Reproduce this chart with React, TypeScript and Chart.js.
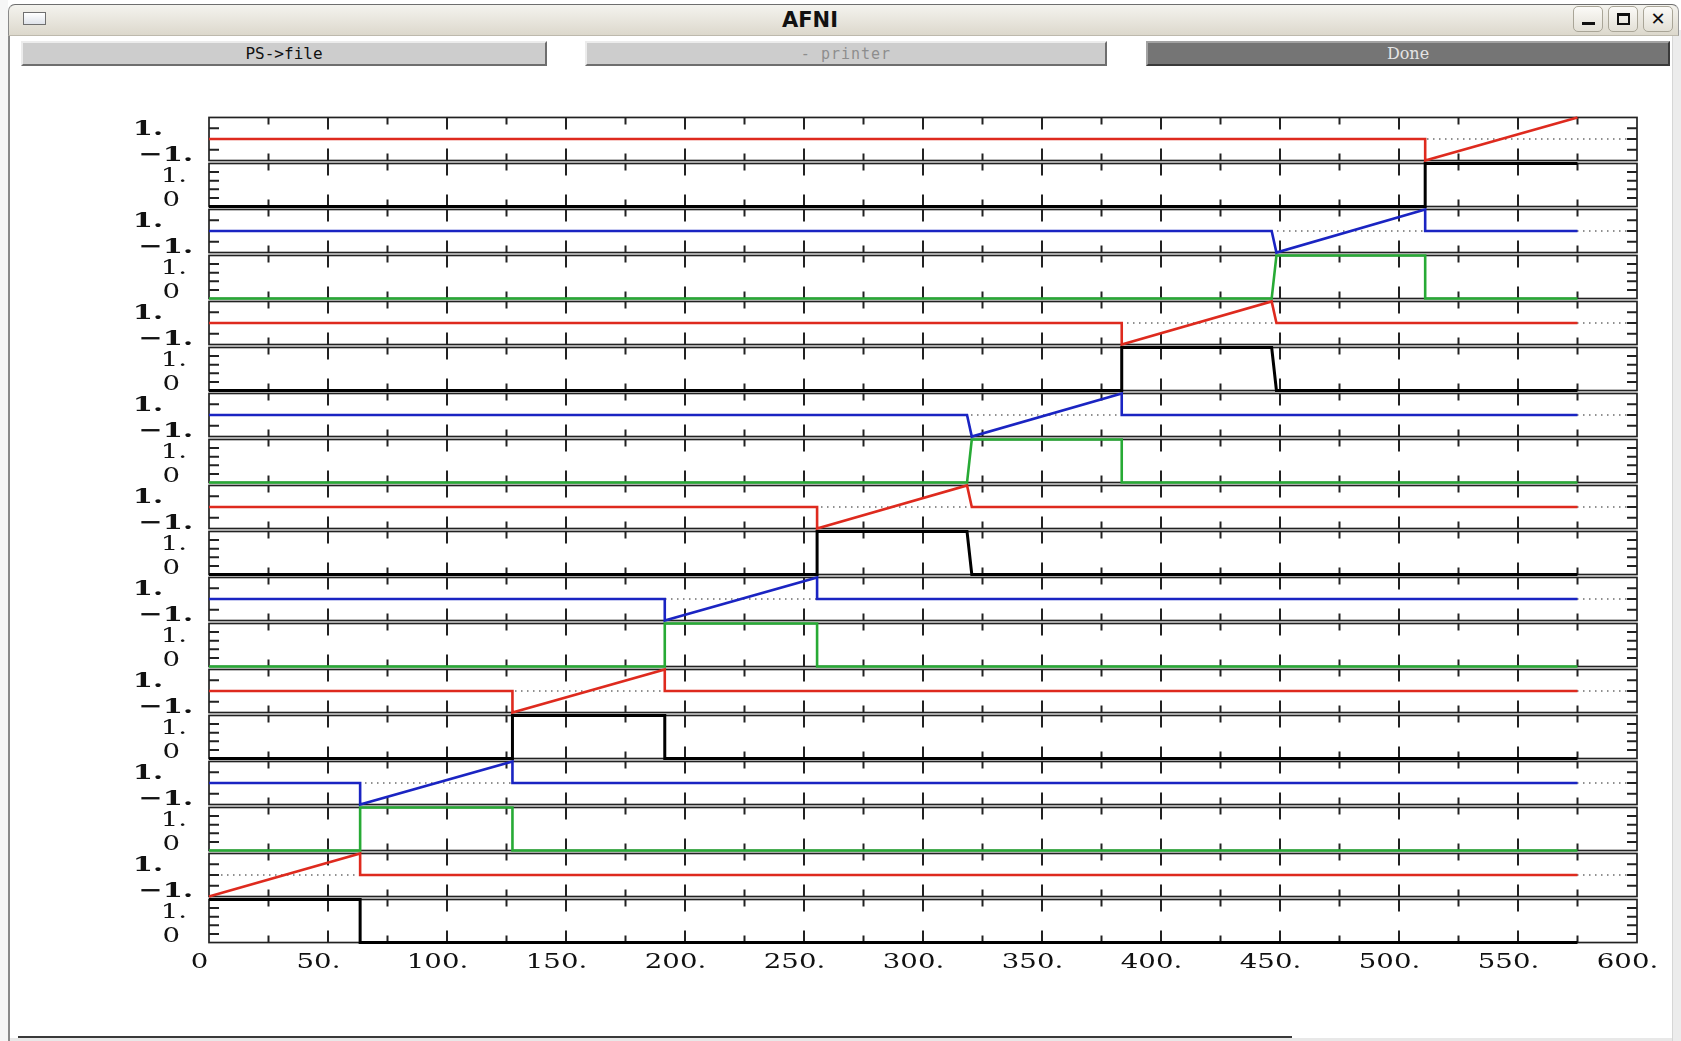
import React, { useEffect, useRef } from "react";
import { Chart, registerables } from "chart.js";

Chart.register(...registerables);

// ---------------- data ----------------
const X_MIN = 0;
const X_MAX = 600;
const X_MAJOR_TICKS = [0, 50, 100, 150, 200, 250, 300, 350, 400, 450, 500, 550, 600];
const X_TICK_LABELS = ["0", "50.", "100.", "150.", "200.", "250.", "300.", "350.", "400.", "450.", "500.", "550.", "600."];
const X_MINOR_TICKS = [25, 75, 125, 175, 225, 275, 325, 375, 425, 475, 525, 575];

const RAMP_MIN = -1;
const RAMP_MAX = 1;
const RAMP_LABELS = ["1.", "\u22121."];
const RAMP_Y_TICKS = [-0.5, 0, 0.5];

const STEP_MIN = 0;
const STEP_MAX = 1;
const STEP_LABELS = ["1.", "0"];
const STEP_Y_TICKS = [0.2, 0.4, 0.6, 0.8];

// panels listed top to bottom: x breakpoints and values
const P01_RED_X = [0, 511, 511, 575];
const P01_RED_Y = [0, 0, -1, 1];
const P02_BLACK_X = [0, 511, 511, 575];
const P02_BLACK_Y = [0, 0, 1, 1];
const P03_BLUE_X = [0, 446.5, 448.5, 511, 511, 575];
const P03_BLUE_Y = [0, 0, -1, 1, 0, 0];
const P04_GREEN_X = [0, 446.5, 448.5, 511, 511, 575];
const P04_GREEN_Y = [0, 0, 1, 1, 0, 0];
const P05_RED_X = [0, 383.5, 383.5, 446.5, 448.5, 575];
const P05_RED_Y = [0, 0, -1, 1, 0, 0];
const P06_BLACK_X = [0, 383.5, 383.5, 446.5, 448.5, 575];
const P06_BLACK_Y = [0, 0, 1, 1, 0, 0];
const P07_BLUE_X = [0, 318.5, 320.5, 383.5, 383.5, 575];
const P07_BLUE_Y = [0, 0, -1, 1, 0, 0];
const P08_GREEN_X = [0, 318.5, 320.5, 383.5, 383.5, 575];
const P08_GREEN_Y = [0, 0, 1, 1, 0, 0];
const P09_RED_X = [0, 255.5, 255.5, 318.5, 320.5, 575];
const P09_RED_Y = [0, 0, -1, 1, 0, 0];
const P10_BLACK_X = [0, 255.5, 255.5, 318.5, 320.5, 575];
const P10_BLACK_Y = [0, 0, 1, 1, 0, 0];
const P11_BLUE_X = [0, 191.5, 191.5, 255.5, 255.5, 575];
const P11_BLUE_Y = [0, 0, -1, 1, 0, 0];
const P12_GREEN_X = [0, 191.5, 191.5, 255.5, 255.5, 575];
const P12_GREEN_Y = [0, 0, 1, 1, 0, 0];
const P13_RED_X = [0, 127.5, 127.5, 191.5, 191.5, 575];
const P13_RED_Y = [0, 0, -1, 1, 0, 0];
const P14_BLACK_X = [0, 127.5, 127.5, 191.5, 191.5, 575];
const P14_BLACK_Y = [0, 0, 1, 1, 0, 0];
const P15_BLUE_X = [0, 63.5, 63.5, 127.5, 127.5, 575];
const P15_BLUE_Y = [0, 0, -1, 1, 0, 0];
const P16_GREEN_X = [0, 63.5, 63.5, 127.5, 127.5, 575];
const P16_GREEN_Y = [0, 0, 1, 1, 0, 0];
const P17_RED_X = [0, 63.5, 63.5, 575];
const P17_RED_Y = [-1, 1, 0, 0];
const P18_BLACK_X = [0, 63.5, 63.5, 575];
const P18_BLACK_Y = [1, 1, 0, 0];

// ---------------- styles ----------------
const RED = "#de2a1e";
const BLUE = "#1a24c2";
const GREEN = "#27aa35";
const BLACK = "#000000";
const FRAME = "#222222";

type Panel = { xs: number[]; ys: number[]; color: string; ramp: boolean };

const PANELS: Panel[] = [
  { xs: P01_RED_X, ys: P01_RED_Y, color: RED, ramp: true },
  { xs: P02_BLACK_X, ys: P02_BLACK_Y, color: BLACK, ramp: false },
  { xs: P03_BLUE_X, ys: P03_BLUE_Y, color: BLUE, ramp: true },
  { xs: P04_GREEN_X, ys: P04_GREEN_Y, color: GREEN, ramp: false },
  { xs: P05_RED_X, ys: P05_RED_Y, color: RED, ramp: true },
  { xs: P06_BLACK_X, ys: P06_BLACK_Y, color: BLACK, ramp: false },
  { xs: P07_BLUE_X, ys: P07_BLUE_Y, color: BLUE, ramp: true },
  { xs: P08_GREEN_X, ys: P08_GREEN_Y, color: GREEN, ramp: false },
  { xs: P09_RED_X, ys: P09_RED_Y, color: RED, ramp: true },
  { xs: P10_BLACK_X, ys: P10_BLACK_Y, color: BLACK, ramp: false },
  { xs: P11_BLUE_X, ys: P11_BLUE_Y, color: BLUE, ramp: true },
  { xs: P12_GREEN_X, ys: P12_GREEN_Y, color: GREEN, ramp: false },
  { xs: P13_RED_X, ys: P13_RED_Y, color: RED, ramp: true },
  { xs: P14_BLACK_X, ys: P14_BLACK_Y, color: BLACK, ramp: false },
  { xs: P15_BLUE_X, ys: P15_BLUE_Y, color: BLUE, ramp: true },
  { xs: P16_GREEN_X, ys: P16_GREEN_Y, color: GREEN, ramp: false },
  { xs: P17_RED_X, ys: P17_RED_Y, color: RED, ramp: true },
  { xs: P18_BLACK_X, ys: P18_BLACK_Y, color: BLACK, ramp: false },
];

// fraction of the range added on each side so frames leave a small gap
const GAP_FRACTION = 0.034;

const CANVAS_TOP = 80;
const CANVAS_W = 1681;
const CANVAS_H = 920;

const FONT_FAMILY = "'DejaVu Serif', 'Liberation Serif', serif";
const SX = 1.38;

function stretchedText(
  ctx: CanvasRenderingContext2D,
  text: string,
  x: number,
  yCenter: number,
  align: CanvasTextAlign,
  size: number,
  bold: boolean
) {
  ctx.save();
  ctx.translate(x, yCenter + size * 0.365);
  ctx.scale(SX, 1);
  ctx.font = `${bold ? "bold " : ""}${size}px ${FONT_FAMILY}`;
  ctx.textAlign = align;
  ctx.textBaseline = "alphabetic";
  ctx.fillStyle = "#111";
  ctx.fillText(text, 0, 0);
  ctx.restore();
}

const panelPlugin = {
  id: "afniPanels",
  beforeDatasetsDraw(chart: any) {
    const ctx: CanvasRenderingContext2D = chart.ctx;
    const xs = chart.scales.x;
    const left = xs.getPixelForValue(X_MIN);
    const right = xs.getPixelForValue(X_MAX);
    ctx.save();
    PANELS.forEach((p, i) => {
      const ys = chart.scales["y" + i];
      const vmin = p.ramp ? RAMP_MIN : STEP_MIN;
      const vmax = p.ramp ? RAMP_MAX : STEP_MAX;
      const top = ys.getPixelForValue(vmax);
      const bottom = ys.getPixelForValue(vmin);

      // dotted zero line
      if (p.ramp) {
        const y0 = ys.getPixelForValue(0);
        ctx.save();
        ctx.strokeStyle = "#222";
        ctx.lineWidth = 1.2;
        ctx.setLineDash([1.5, 4.5]);
        ctx.beginPath();
        ctx.moveTo(left, y0);
        ctx.lineTo(right, y0);
        ctx.stroke();
        ctx.restore();
      }

      ctx.strokeStyle = FRAME;
      ctx.lineWidth = 1.7;
      ctx.setLineDash([]);
      ctx.strokeRect(left, top, right - left, bottom - top);

      ctx.lineWidth = 2;
      ctx.beginPath();
      // x ticks on top and bottom edges
      X_MAJOR_TICKS.forEach((v) => {
        if (v === X_MIN || v === X_MAX) return;
        const px = xs.getPixelForValue(v);
        ctx.moveTo(px, top);
        ctx.lineTo(px, top + 12);
        ctx.moveTo(px, bottom);
        ctx.lineTo(px, bottom - 12);
      });
      X_MINOR_TICKS.forEach((v) => {
        const px = xs.getPixelForValue(v);
        ctx.moveTo(px, top);
        ctx.lineTo(px, top + 7);
        ctx.moveTo(px, bottom);
        ctx.lineTo(px, bottom - 7);
      });
      // y ticks on both sides
      (p.ramp ? RAMP_Y_TICKS : STEP_Y_TICKS).forEach((v) => {
        const py = ys.getPixelForValue(v);
        ctx.moveTo(left, py);
        ctx.lineTo(left + 10, py);
        ctx.moveTo(right, py);
        ctx.lineTo(right - 10, py);
      });
      ctx.stroke();
    });
    ctx.restore();
  },
  afterDraw(chart: any) {
    const ctx: CanvasRenderingContext2D = chart.ctx;
    const xs = chart.scales.x;
    const left = xs.getPixelForValue(X_MIN);
    let lastBottom = 0;
    PANELS.forEach((p, i) => {
      const ys = chart.scales["y" + i];
      const top = ys.getPixelForValue(p.ramp ? RAMP_MAX : STEP_MAX);
      const bottom = ys.getPixelForValue(p.ramp ? RAMP_MIN : STEP_MIN);
      lastBottom = Math.max(lastBottom, bottom);
      if (p.ramp) {
        stretchedText(ctx, RAMP_LABELS[0], left - 46, top + 10, "right", 21, true);
        stretchedText(ctx, RAMP_LABELS[1], left - 16, bottom - 7, "right", 21, true);
      } else {
        stretchedText(ctx, STEP_LABELS[0], left - 22, top + 11, "right", 20, false);
        stretchedText(ctx, STEP_LABELS[1], left - 29, bottom - 8, "right", 20, false);
      }
    });
    X_MAJOR_TICKS.forEach((v, k) => {
      const px = xs.getPixelForValue(v);
      stretchedText(ctx, X_TICK_LABELS[k], px - 9.5, lastBottom + 18, "center", 20, false);
    });
  },
};

function ChartCanvas() {
  const ref = useRef<HTMLCanvasElement | null>(null);
  useEffect(() => {
    if (!ref.current) return;
    const hidden = {
      display: true,
      grid: { display: false, drawTicks: false, tickLength: 0 },
      border: { display: false },
      ticks: { display: false, padding: 0 },
      title: { display: false },
    };
    const scales: any = {
      x: { type: "linear", min: X_MIN, max: X_MAX, ...hidden },
    };
    PANELS.forEach((p, i) => {
      const lo = p.ramp ? RAMP_MIN : STEP_MIN;
      const hi = p.ramp ? RAMP_MAX : STEP_MAX;
      const pad = (hi - lo) * GAP_FRACTION;
      scales["y" + i] = {
        type: "linear",
        position: "left",
        stack: "panels",
        stackWeight: 1,
        weight: PANELS.length - i,
        min: lo - pad,
        max: hi + pad,
        ...hidden,
      };
    });
    const datasets = PANELS.map((p, i) => ({
      label: "panel" + (i + 1),
      data: p.xs.map((x, k) => ({ x, y: p.ys[k] })),
      yAxisID: "y" + i,
      xAxisID: "x",
      borderColor: p.color,
      backgroundColor: p.color,
      borderWidth: p.color === BLACK ? 3 : 2.6,
      pointRadius: 0,
      tension: 0,
      fill: false,
      clip: false,
    }));
    const chart = new Chart(ref.current, {
      type: "line",
      data: { datasets },
      options: {
        animation: false,
        responsive: false,
        maintainAspectRatio: false,
        devicePixelRatio: 1,
        parsing: false as any,
        layout: { padding: { left: 209, right: 44, top: 36, bottom: 56 } },
        plugins: { legend: { display: false }, tooltip: { enabled: false } },
        events: [],
        scales,
      },
      plugins: [panelPlugin],
    } as any);
    return () => chart.destroy();
  }, []);
  return (
    <canvas
      ref={ref}
      width={CANVAS_W}
      height={CANVAS_H}
      style={{ position: "absolute", left: 0, top: CANVAS_TOP, width: CANVAS_W, height: CANVAS_H }}
    />
  );
}

const btnBase: React.CSSProperties = {
  position: "absolute",
  top: 41,
  height: 25,
  boxSizing: "border-box",
  display: "flex",
  alignItems: "center",
  justifyContent: "center",
};

export default function App() {
  return (
    <div
      style={{
        position: "fixed",
        left: 0,
        top: 0,
        width: 1681,
        height: 1041,
        background: "#ffffff",
        overflow: "hidden",
      }}
    >
      {/* window left border */}
      <div style={{ position: "absolute", left: 0, top: 0, width: 8, height: 1041, background: "#f6f6f6" }} />
      <div style={{ position: "absolute", left: 8, top: 30, width: 2, height: 1011, background: "#8a8a8a" }} />
      {/* right strip */}
      <div style={{ position: "absolute", left: 1672, top: 30, width: 9, height: 1011, background: "#ececec", borderLeft: "1px solid #d6d6d6" }} />
      {/* bottom line */}
      <div style={{ position: "absolute", left: 18, top: 1036, width: 1274, height: 2, background: "#3a3a3a" }} />
      <div style={{ position: "absolute", left: 10, top: 1038, width: 1662, height: 3, background: "#e8e8e8" }} />

      {/* title bar */}
      <div
        style={{
          position: "absolute",
          left: 8,
          top: 4,
          width: 1671,
          height: 32,
          boxSizing: "border-box",
          background: "linear-gradient(#f4f3ee, #e6e3da 60%, #dcd8cc)",
          borderTop: "1px solid #6e6e6e",
          borderLeft: "1px solid #8a8a8a",
          borderRight: "1px solid #9a9a9a",
          borderBottom: "1px solid #bdb9ad",
          borderTopLeftRadius: 7,
          borderTopRightRadius: 7,
        }}
      />
      <div
        style={{
          position: "absolute",
          left: 23,
          top: 12,
          width: 23,
          height: 13,
          boxSizing: "border-box",
          border: "1px solid #6f6f6f",
          background: "linear-gradient(#ffffff, #dfe3ea)",
        }}
      />
      <div
        style={{
          position: "absolute",
          left: 0,
          top: 8,
          width: 1620,
          textAlign: "center",
          font: "bold 21px 'DejaVu Sans', 'Liberation Sans', sans-serif",
          color: "#111",
          lineHeight: "24px",
        }}
      >
        AFNI
      </div>
      {/* window control buttons */}
      {[1573, 1608, 1643].map((x, k) => (
        <div
          key={k}
          style={{
            position: "absolute",
            left: x,
            top: 6,
            width: 30,
            height: 26,
            boxSizing: "border-box",
            border: "1px solid #a9a597",
            borderRadius: 5,
            background: "linear-gradient(#fbfaf7, #e3e0d6)",
          }}
        >
          {k === 0 && (
            <div style={{ position: "absolute", left: 8, top: 15, width: 13, height: 3, background: "#111" }} />
          )}
          {k === 1 && (
            <div
              style={{
                position: "absolute",
                left: 8,
                top: 6,
                width: 13,
                height: 12,
                boxSizing: "border-box",
                border: "2px solid #111",
                borderTopWidth: 3,
              }}
            />
          )}
          {k === 2 && (
            <div
              style={{
                position: "absolute",
                left: 0,
                top: 0,
                width: 28,
                height: 24,
                textAlign: "center",
                font: "bold 18px 'DejaVu Sans', sans-serif",
                lineHeight: "24px",
                color: "#111",
              }}
            >
              {"\u2715"}
            </div>
          )}
        </div>
      ))}

      {/* button row */}
      <div
        style={{
          ...btnBase,
          left: 21,
          width: 526,
          background: "#cdcdcd",
          borderTop: "2px solid #ececec",
          borderLeft: "2px solid #ececec",
          borderBottom: "2px solid #6e6e6e",
          borderRight: "2px solid #6e6e6e",
          font: "16px 'DejaVu Sans Mono', 'Liberation Mono', monospace",
          color: "#111",
        }}
      >
        PS-&gt;file
      </div>
      <div
        style={{
          ...btnBase,
          left: 585,
          width: 522,
          background: "#cdcdcd",
          borderTop: "2px solid #ececec",
          borderLeft: "2px solid #ececec",
          borderBottom: "2px solid #6e6e6e",
          borderRight: "2px solid #6e6e6e",
          font: "15px 'DejaVu Sans Mono', 'Liberation Mono', monospace",
          color: "#8d8d8d",
          letterSpacing: 1,
        }}
      >
        {"- printer"}
      </div>
      <div
        style={{
          ...btnBase,
          left: 1146,
          width: 524,
          background: "#757575",
          borderTop: "2px solid #a3a3a3",
          borderLeft: "2px solid #a3a3a3",
          borderBottom: "2px solid #3a3a3a",
          borderRight: "2px solid #3a3a3a",
          font: "16px 'DejaVu Serif', 'Liberation Serif', serif",
          color: "#e4e4e4",
        }}
      >
        Done
      </div>

      <ChartCanvas />
    </div>
  );
}
